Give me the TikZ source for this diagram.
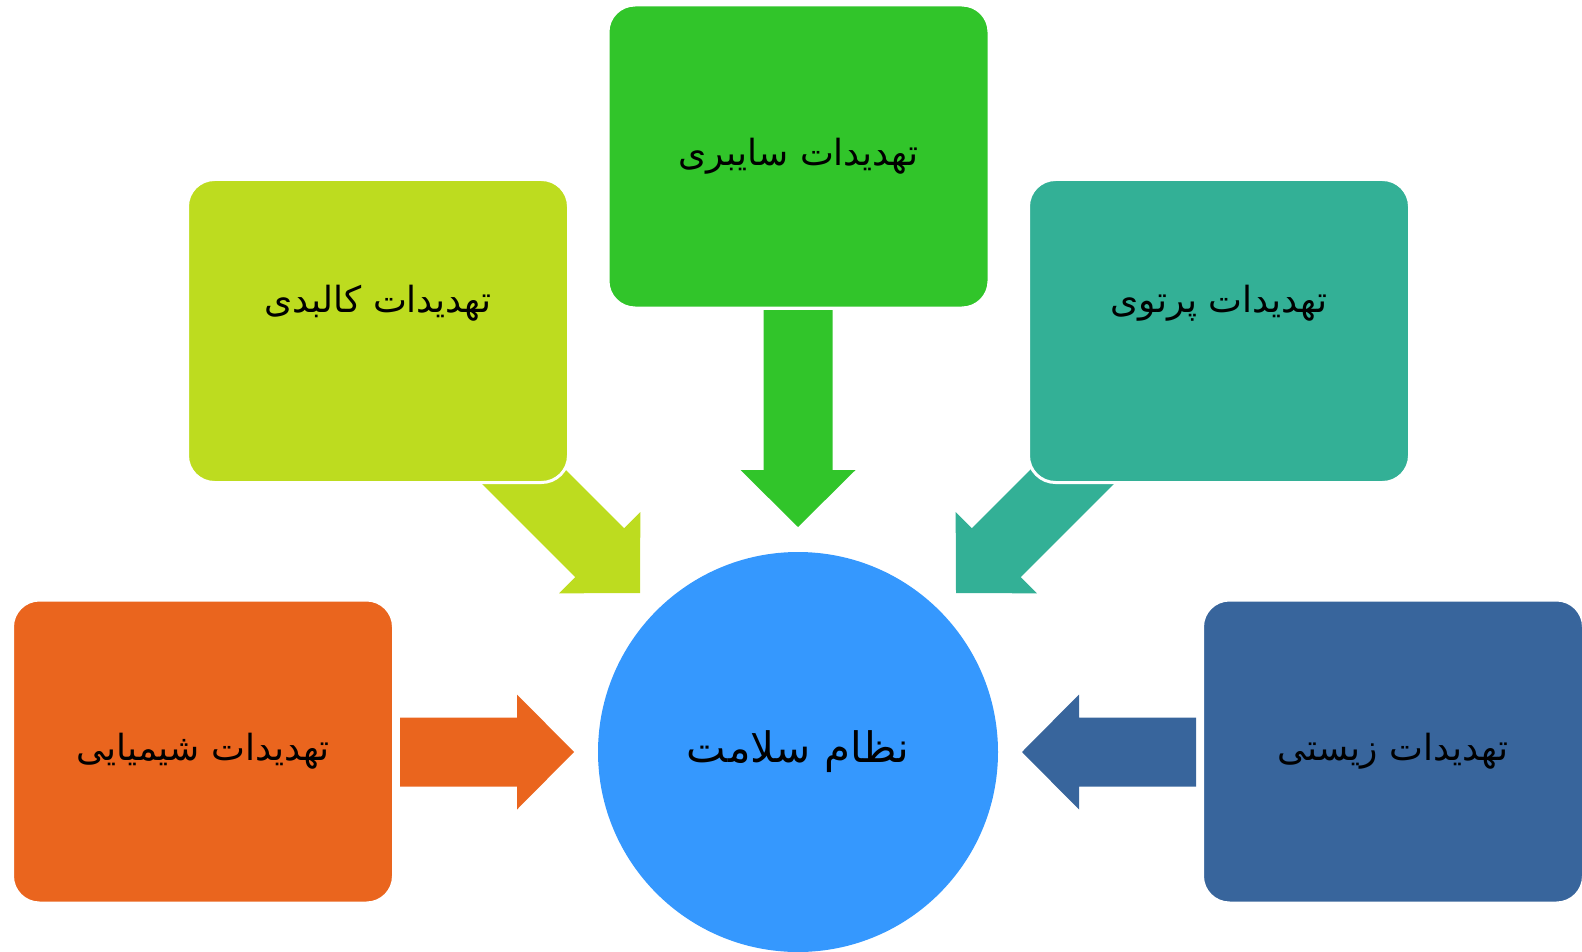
\documentclass[tikz,border=0pt]{standalone}
\usepackage{fontspec}
\TeXXeTstate=1
\newfontfamily\arabicfont[Script=Arabic]{DejaVu Sans}
\definecolor{cgreen}{RGB}{49,197,42}
\definecolor{clime}{RGB}{189,220,31}
\definecolor{cteal}{RGB}{51,176,150}
\definecolor{corange}{RGB}{234,101,30}
\definecolor{cblue}{RGB}{56,101,156}
\definecolor{ccircle}{RGB}{53,152,254}
\tikzset{
  threatbox/.style={rectangle, rounded corners=27pt, draw=white, line width=3pt,
    minimum width=381pt, minimum height=303pt, inner sep=0pt,
    font=\arabicfont\fontsize{36}{42}\selectfont, text=black},
  threattext/.style={inner sep=0pt, font=\arabicfont\fontsize{36}{42}\selectfont, text=black},
  hubcircle/.style={circle, fill=ccircle, minimum size=400pt, inner sep=0pt,
    font=\arabicfont\fontsize{42}{48}\selectfont, text=black},
  pics/blockarrow/.style={code={
    \fill[#1] (0,0) -- (-57,57.5) -- (-57,34.5) -- (-217,34.5) -- (-217,-34.5)
      -- (-57,-34.5) -- (-57,-57.5) -- cycle;}},
  pics/shortarrow/.style={code={
    \fill[#1] (0,0) -- (-57,57.5) -- (-57,34.5) -- (-174,34.5) -- (-174,-34.5)
      -- (-57,-34.5) -- (-57,-57.5) -- cycle;}}
}
\begin{document}
\begin{tikzpicture}[x=1pt,y=-1pt]
\useasboundingbox (0,0) rectangle (1582,952);
% hub
\node[hubcircle] (hub) at (798,752) {\beginR نظام سلامت\endR};
% arrow tips
\coordinate (tipT) at (798,527);
\coordinate (tipL) at (574,752);
\coordinate (tipR) at (1022,752);
\coordinate (tipUL) at (640,593);
\coordinate (tipUR) at (956,593);
% arrows (drawn under the boxes)
\pic[rotate=-90] at (tipT) {blockarrow=cgreen};
\pic[rotate=-45] at (tipUL) {blockarrow=clime};
\pic[rotate=-135] at (tipUR) {blockarrow=cteal};
\pic at (tipL) {shortarrow=corange};
\pic[rotate=180] at (tipR) {shortarrow=cblue};
% boxes
\node[threatbox, fill=cgreen] (cyber) at (798.5,156.5) {\beginR تهدیدات سایبری\endR};
\node[threatbox, fill=clime] (physical) at (378,331) {};
\node[threattext] (physicalText) at ([yshift=28pt]physical.center) {\beginR تهدیدات کالبدی\endR};
\node[threatbox, fill=cteal] (radiation) at (1219,331) {};
\node[threattext] (radiationText) at ([yshift=28pt]radiation.center) {\beginR تهدیدات پرتوی\endR};
\node[threatbox, fill=corange] (chemical) at (203,751.5) {\beginR تهدیدات شیمیایی\endR};
\node[threatbox, fill=cblue] (biological) at (1393,751.5) {\beginR تهدیدات زیستی\endR};
\end{tikzpicture}
\end{document}
